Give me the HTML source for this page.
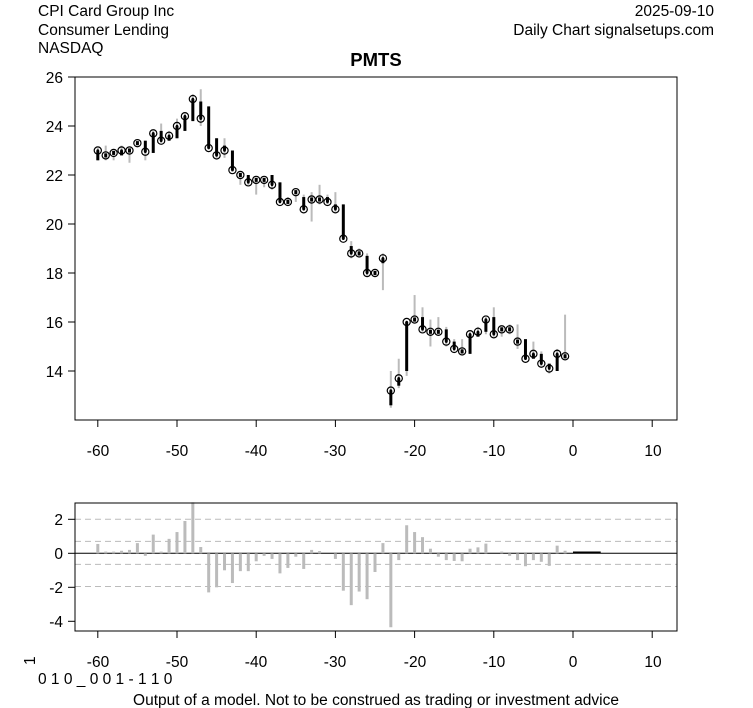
<!DOCTYPE html>
<html><head><meta charset="utf-8"><style>
body{margin:0;background:#fff}
svg{display:block;font-family:"Liberation Sans",Arial,sans-serif}
</style></head><body>
<svg id="s" width="753" height="708" xmlns="http://www.w3.org/2000/svg">
<rect width="753" height="708" fill="#fff"/>
<g font-size="15.5" fill="#000">
<text x="38" y="16">CPI Card Group Inc</text>
<text x="38" y="35">Consumer Lending</text>
<text x="38" y="53">NASDAQ</text>
<text x="714" y="16" text-anchor="end">2025-09-10</text>
<text x="714" y="35" text-anchor="end">Daily Chart signalsetups.com</text>
<text x="376" y="66" text-anchor="middle" font-weight="bold" font-size="18.5">PMTS</text>
</g>
<g id="grid"></g>
<g id="main"></g>
<g id="low"></g>
<rect x="75" y="77" width="602" height="343" fill="none" stroke="#000"/>
<rect x="75" y="503" width="602" height="128" fill="none" stroke="#000"/>
<g font-size="15.5" fill="#000" text-anchor="end">
<text x="63" y="83">26</text><text x="63" y="132">24</text><text x="63" y="181">22</text>
<text x="63" y="230">20</text><text x="63" y="279">18</text><text x="63" y="328">16</text><text x="63" y="377">14</text>
<text x="63" y="525">2</text><text x="63" y="559">0</text><text x="63" y="593">-2</text><text x="63" y="627">-4</text>
</g>
<g font-size="15.5" fill="#000" text-anchor="middle">
<text x="98" y="456">-60</text><text x="177" y="456">-50</text><text x="256" y="456">-40</text><text x="335" y="456">-30</text>
<text x="415" y="456">-20</text><text x="494" y="456">-10</text><text x="573" y="456">0</text><text x="653" y="456">10</text>
<text x="98" y="667">-60</text><text x="177" y="667">-50</text><text x="256" y="667">-40</text><text x="335" y="667">-30</text>
<text x="415" y="667">-20</text><text x="494" y="667">-10</text><text x="573" y="667">0</text><text x="653" y="667">10</text>
<text x="376" y="705">Output of a model. Not to be construed as trading or investment advice</text>
</g>
<text x="38" y="684" font-size="15.5">0 1 0 _ 0 0 1 - 1 1 0</text>
<text x="0" y="0" font-size="15.5" transform="translate(35,665) rotate(-90)">1</text>
<g id="ticks" stroke="#000"></g>
</svg>
<script>
var NS="http://www.w3.org/2000/svg";
function el(p,t,a){var e=document.createElementNS(NS,t);for(var k in a)e.setAttribute(k,a[k]);document.getElementById(p).appendChild(e);return e;}
function X(d){return 573+7.92*d;}
function Y(v){return 371-24.5*(v-14);}
function YL(v){return 553.3-17*v;}
var tk=[-60,-50,-40,-30,-20,-10,0,10];
tk.forEach(function(d){el("ticks","line",{x1:X(d),x2:X(d),y1:420,y2:427});el("ticks","line",{x1:X(d),x2:X(d),y1:631,y2:638});});
[26,24,22,20,18,16,14].forEach(function(v){el("ticks","line",{x1:68,x2:75,y1:Y(v),y2:Y(v)});});
[2,0,-2,-4].forEach(function(v){el("ticks","line",{x1:68,x2:75,y1:YL(v),y2:YL(v)});});
var D=[[22.6,23.0],[22.9,22.8],[22.9,22.9],[22.8,23.0],[23.0,23.0],[23.2,23.3],[23.4,22.95],[22.9,23.7],[23.8,23.4],[23.4,23.6],[23.5,24.0],[23.8,24.4],[24.2,25.1],[25.0,24.3],[24.8,23.1],[23.5,22.8],[23.2,23.0],[23.0,22.2],[22.1,22.0],[22.0,21.7],[21.8,21.8],[21.8,21.8],[22.0,21.6],[21.7,20.9],[21.0,20.9],[21.3,21.3],[21.1,20.6],[20.9,21.0],[21.0,21.0],[21.1,20.9],[20.8,20.6],[20.8,19.4],[19.1,18.8],[18.8,18.8],[18.7,18.0],[18.0,18.0],[18.4,18.6],[12.6,13.2],[13.4,13.7],[14.0,16.0],[16.1,16.1],[16.2,15.7],[15.6,15.6],[15.7,15.6],[15.7,15.2],[15.2,14.9],[14.8,14.8],[14.7,15.5],[15.4,15.6],[15.6,16.1],[16.2,15.5],[15.6,15.7],[15.6,15.7],[15.3,15.2],[15.3,14.5],[14.5,14.7],[14.7,14.3],[14.3,14.1],[14.0,14.7],[14.6,14.6]];
var HL={"-60":[23.1,22.6],"-59":[23.2,22.6],"-58":[23.0,22.6],"-57":[23.2,22.8],"-56":[23.1,22.5],"-55":[23.4,23.2],"-54":[23.4,22.6],"-53":[23.8,22.9],"-52":[24.1,23.3],"-51":[23.8,23.4],"-50":[24.3,23.5],"-49":[24.5,23.8],"-48":[25.3,24.2],"-47":[25.5,24.0],"-46":[24.8,23.1],"-45":[23.5,22.7],"-44":[23.5,22.7],"-43":[23.0,22.2],"-42":[22.1,21.6],"-41":[22.0,21.6],"-40":[21.9,21.2],"-39":[21.9,21.5],"-38":[22.0,21.4],"-37":[21.7,20.9],"-36":[21.1,20.8],"-35":[21.4,20.9],"-34":[21.2,20.6],"-33":[21.3,20.1],"-32":[21.6,20.8],"-31":[21.2,20.8],"-30":[21.3,20.5],"-29":[20.8,19.4],"-28":[19.3,18.6],"-27":[19.0,18.7],"-26":[18.8,17.9],"-25":[18.1,17.9],"-24":[18.8,17.3],"-23":[14.0,12.5],"-22":[14.5,13.3],"-21":[16.0,13.8],"-20":[17.1,16.0],"-19":[16.6,15.6],"-18":[16.1,15.0],"-17":[16.2,15.5],"-16":[15.8,15.0],"-15":[15.3,14.8],"-14":[15.3,14.7],"-13":[15.6,14.7],"-12":[15.8,15.5],"-11":[16.2,15.5],"-10":[16.6,15.4],"-9":[15.8,15.4],"-8":[15.9,15.5],"-7":[15.9,14.9],"-6":[15.3,14.5],"-5":[15.2,14.6],"-4":[14.8,14.2],"-3":[14.2,13.9],"-2":[14.9,14.0],"-1":[16.3,14.5]};
D.forEach(function(r,i){var d=i-60,x=X(d),o=r[0],c=r[1],h=HL[d];
 el("main","line",{x1:x,x2:x,y1:Y(h[0]),y2:Y(h[1]),stroke:"#bbb","stroke-width":2});
 var y1=Y(o),y2=Y(c);if(Math.abs(y1-y2)<3){y1=Y(c)+2;y2=Y(c)-2;}
 el("main","line",{x1:x,x2:x,y1:y1,y2:y2,stroke:"#000","stroke-width":3});
 el("main","circle",{cx:x,cy:Y(c),r:3.6,fill:"none",stroke:"#000","stroke-width":1.2});
 el("main","circle",{cx:x,cy:Y(c),r:1.3,fill:"#000"});
});
[2,0.7,-0.65,-1.95].forEach(function(v){el("grid","line",{x1:75,x2:677,y1:YL(v),y2:YL(v),stroke:"#bbb","stroke-dasharray":"6,4"});});
el("grid","line",{x1:75,x2:677,y1:YL(0),y2:YL(0),stroke:"#000"});
var L=[0.55,0.1,0.1,0.15,0.2,0.6,-0.15,1.1,0.1,0.85,1.25,1.9,3.0,0.37,-2.3,-2.0,-1.0,-1.75,-1.05,-1.05,-0.47,-0.15,-0.33,-1.18,-0.86,-0.2,-0.92,0.2,0.13,0,-0.33,-2.2,-3.05,-2.25,-2.7,-1.1,0.6,-4.35,-0.4,1.65,1.25,0.95,0.27,-0.2,-0.4,-0.45,-0.47,0.27,0.35,0.57,0,0.1,-0.15,-0.4,-0.76,-0.4,-0.5,-0.74,0.45,0.15];
L.forEach(function(v,i){var x=X(i-60);if(v==0)return;el("low","line",{x1:x,x2:x,y1:YL(0),y2:YL(v),stroke:"#bbb","stroke-width":3});});
el("low","line",{x1:X(0),x2:X(3.5),y1:YL(0.05),y2:YL(0.05),stroke:"#000","stroke-width":2});
</script>
</body></html>
